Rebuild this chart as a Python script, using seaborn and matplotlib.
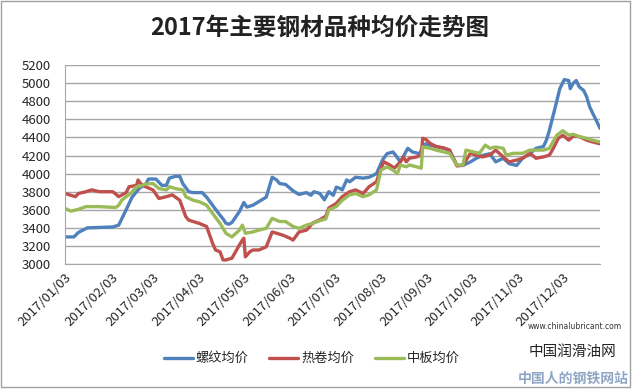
import pandas as pd
import matplotlib
matplotlib.use("Agg")
import matplotlib.pyplot as plt
import seaborn as sns
from matplotlib.patches import Rectangle

# 螺纹均价 (rebar)
rebar_dates = ["01-03", "01-09", "01-12", "01-18", "02-04", "02-08", "02-13", "02-17", "02-22", "02-26",
               "02-28", "03-05", "03-09", "03-12", "03-14", "03-18", "03-21", "03-23", "03-27", "03-30",
               "04-05", "04-08", "04-12", "04-17", "04-19", "04-21", "04-23", "04-25", "04-30", "05-03",
               "05-05", "05-09", "05-13", "05-18", "05-22", "05-25", "05-27", "05-31", "06-05", "06-09",
               "06-14", "06-17", "06-19", "06-23", "06-26", "06-29", "07-02", "07-04", "07-06", "07-08",
               "07-11", "07-13", "07-17", "07-22", "07-26", "07-31", "08-04", "08-07", "08-11", "08-13",
               "08-16", "08-18", "08-21", "08-24", "08-29", "08-31", "09-02", "09-05", "09-09", "09-14",
               "09-18", "09-23", "09-27", "10-02", "10-06", "10-10", "10-15", "10-19", "10-24", "10-28",
               "11-02", "11-06", "11-11", "11-15", "11-20", "11-22", "11-24", "11-28", "12-01", "12-04",
               "12-07", "12-08", "12-10", "12-12", "12-14", "12-17", "12-19", "12-21", "12-23", "12-26",
               "12-28"]
rebar = [3300, 3300, 3350, 3400, 3410, 3430, 3600, 3740, 3840, 3880,
         3940, 3940, 3870, 3870, 3950, 3970, 3970, 3890, 3800, 3790,
         3790, 3740, 3650, 3540, 3500, 3450, 3440, 3460, 3580, 3680,
         3630, 3650, 3690, 3740, 3960, 3930, 3890, 3880, 3810, 3770,
         3790, 3760, 3800, 3780, 3710, 3800, 3760, 3850, 3840, 3820,
         3930, 3910, 3960, 3950, 3960, 4000, 4150, 4220, 4240, 4200,
         4130, 4190, 4280, 4240, 4220, 4300, 4330, 4310, 4300, 4280,
         4260, 4090, 4090, 4130, 4170, 4200, 4220, 4130, 4170, 4110,
         4090, 4170, 4220, 4280, 4300, 4370, 4480, 4740, 4940, 5040,
         5030, 4940, 5000, 5030, 4960, 4920, 4850, 4740, 4670, 4570,
         4500]

# 热卷均价 (hot coil)
coil_dates = ["01-03", "01-07", "01-10", "01-12", "01-17", "01-21", "01-26", "02-04", "02-06", "02-08",
              "02-13", "02-15", "02-20", "02-21", "02-23", "02-26", "03-03", "03-07", "03-12", "03-16",
              "03-21", "03-25", "03-27", "03-30", "04-03", "04-08", "04-12", "04-14", "04-17", "04-19",
              "04-21", "04-25", "04-30", "05-02", "05-03", "05-04", "05-07", "05-09", "05-13", "05-18",
              "05-22", "05-25", "05-29", "06-03", "06-05", "06-09", "06-14", "06-18", "06-23", "06-27",
              "06-29", "07-04", "07-08", "07-13", "07-17", "07-22", "07-26", "07-31", "08-03", "08-05",
              "08-09", "08-12", "08-16", "08-18", "08-20", "08-22", "08-27", "08-30", "08-31", "09-02",
              "09-05", "09-09", "09-14", "09-18", "09-20", "09-23", "09-27", "10-02", "10-06", "10-10",
              "10-15", "10-19", "10-24", "10-28", "11-02", "11-06", "11-11", "11-15", "11-20", "11-24",
              "11-26", "11-30", "12-03", "12-07", "12-10", "12-14", "12-19", "12-23", "12-28"]
coil = [3780, 3760, 3745, 3780, 3800, 3820, 3800, 3800, 3775, 3745,
        3790, 3855, 3870, 3930, 3885, 3855, 3820, 3725, 3745, 3765,
        3705, 3525, 3485, 3470, 3450, 3415, 3230, 3155, 3135, 3045,
        3045, 3065, 3210, 3265, 3285, 3080, 3135, 3155, 3155, 3190,
        3355, 3340, 3320, 3285, 3265, 3355, 3375, 3450, 3490, 3530,
        3620, 3670, 3745, 3800, 3820, 3780, 3855, 3910, 4060, 4130,
        4095, 4060, 4130, 4185, 4130, 4170, 4185, 4205, 4390, 4380,
        4335, 4300, 4285, 4260, 4185, 4085, 4095, 4225, 4205, 4185,
        4205, 4260, 4185, 4130, 4150, 4170, 4225, 4170, 4185, 4205,
        4260, 4390, 4425, 4370, 4415, 4410, 4370, 4350, 4330]

# 中板均价 (medium plate)
plate_dates = ["01-03", "01-07", "01-12", "01-17", "01-26", "02-06", "02-08", "02-10", "02-13", "02-16",
               "02-20", "02-22", "02-26", "03-03", "03-07", "03-12", "03-14", "03-18", "03-23", "03-25",
               "03-30", "04-03", "04-08", "04-12", "04-17", "04-21", "04-25", "04-30", "05-02", "05-04",
               "05-09", "05-13", "05-18", "05-22", "05-27", "05-31", "06-05", "06-09", "06-14", "06-18",
               "06-23", "06-27", "06-29", "07-04", "07-08", "07-13", "07-17", "07-22", "07-26", "07-31",
               "08-03", "08-07", "08-11", "08-14", "08-16", "08-20", "08-22", "08-27", "08-30", "08-31",
               "09-05", "09-09", "09-14", "09-18", "09-20", "09-23", "09-27", "09-29", "10-04", "10-08",
               "10-12", "10-15", "10-19", "10-24", "10-26", "10-31", "11-06", "11-11", "11-15", "11-20",
               "11-24", "11-29", "12-03", "12-07", "12-10", "12-14", "12-19", "12-23", "12-28"]
plate = [3615, 3585, 3605, 3635, 3635, 3625, 3650, 3705, 3745, 3780,
         3855, 3860, 3885, 3890, 3835, 3820, 3855, 3835, 3820, 3745,
         3705, 3690, 3650, 3560, 3450, 3340, 3300, 3375, 3430, 3340,
         3355, 3375, 3395, 3505, 3470, 3470, 3415, 3395, 3430, 3450,
         3480, 3500, 3600, 3635, 3705, 3765, 3780, 3745, 3765, 3820,
         4040, 4075, 4040, 4000, 4095, 4075, 4095, 4075, 4060, 4295,
         4280, 4260, 4240, 4225, 4170, 4095, 4095, 4260, 4240, 4225,
         4315, 4280, 4295, 4280, 4205, 4225, 4225, 4260, 4260, 4260,
         4280, 4425, 4475, 4425, 4435, 4410, 4390, 4370, 4350]

series_names = ["螺纹均价", "热卷均价", "中板均价"]
colors = ["#4F81BD", "#C0504D", "#9BBB59"]
tick_labels = ["2017/01/03", "2017/02/03", "2017/03/03", "2017/04/03", "2017/05/03", "2017/06/03",
               "2017/07/03", "2017/08/03", "2017/09/03", "2017/10/03", "2017/11/03", "2017/12/03"]

frames = []
for name, d, v in zip(series_names, [rebar_dates, coil_dates, plate_dates], [rebar, coil, plate]):
    frames.append(pd.DataFrame({"date": pd.to_datetime(["2017-" + s for s in d]), "price": v, "kind": name}))
df = pd.concat(frames, ignore_index=True)

sns.set_style("white")
plt.rcParams['font.family'] = ['Noto Sans CJK SC', 'DejaVu Sans']

fig = plt.figure(figsize=(6.4, 3.9), dpi=100)
ax = fig.add_axes([0.1016, 0.323, 0.836, 0.510])

sns.lineplot(data=df, x="date", y="price", hue="kind", hue_order=series_names,
             palette=colors, linewidth=2.4, ax=ax, legend=True)

ax.set_ylim(3000, 5200)
ax.set_yticks(range(3000, 5201, 200))
ax.set_xlim(pd.Timestamp("2017-01-03"), pd.Timestamp("2017-12-28"))
ticks = pd.to_datetime(tick_labels, format="%Y/%m/%d")
ax.set_xticks(ticks)
ax.set_xticklabels(tick_labels, rotation=45, ha="right", va="top", rotation_mode="anchor", fontsize=9.5)
ax.tick_params(axis="y", labelsize=9.5, length=0, pad=10)
ax.tick_params(axis="x", length=0, pad=5)
ax.yaxis.grid(True, color="#a6a6a6", linewidth=1)
ax.set_xlabel("")
ax.set_ylabel("")
for s in ["top", "right"]:
    ax.spines[s].set_visible(False)
ax.spines["left"].set_color("#a6a6a6")
ax.spines["bottom"].set_color("#a6a6a6")

leg = ax.legend(loc="center", bbox_to_anchor=(0.487, 0.08), bbox_transform=fig.transFigure,
                ncol=3, frameon=False, fontsize=9.5, handlelength=2.2, columnspacing=1.6,
                handletextpad=0.2)

fig.text(0.5, 0.93, "2017年主要钢材品种均价走势图", ha="center", va="center",
         fontsize=17, fontweight="bold", color="#222222")

# watermark
fig.text(0.898, 0.162, "www.chinalubricant.com", ha="center", va="center", fontsize=5.5, color="#333333",
         family=["DejaVu Sans"])
fig.text(0.895, 0.098, "中国润滑油网", ha="center", va="center", fontsize=10.5, color="#222222")
fig.text(0.895, 0.028, "中国人的钢铁网站", ha="center", va="center", fontsize=10,
         fontweight="bold", color="#8fa7c4")

fig.patches.append(Rectangle((0.002, 0.008), 0.982, 0.99, transform=fig.transFigure,
                             fill=False, edgecolor="#a0a0a0", linewidth=1))

fig.savefig("out.png", dpi=100)
